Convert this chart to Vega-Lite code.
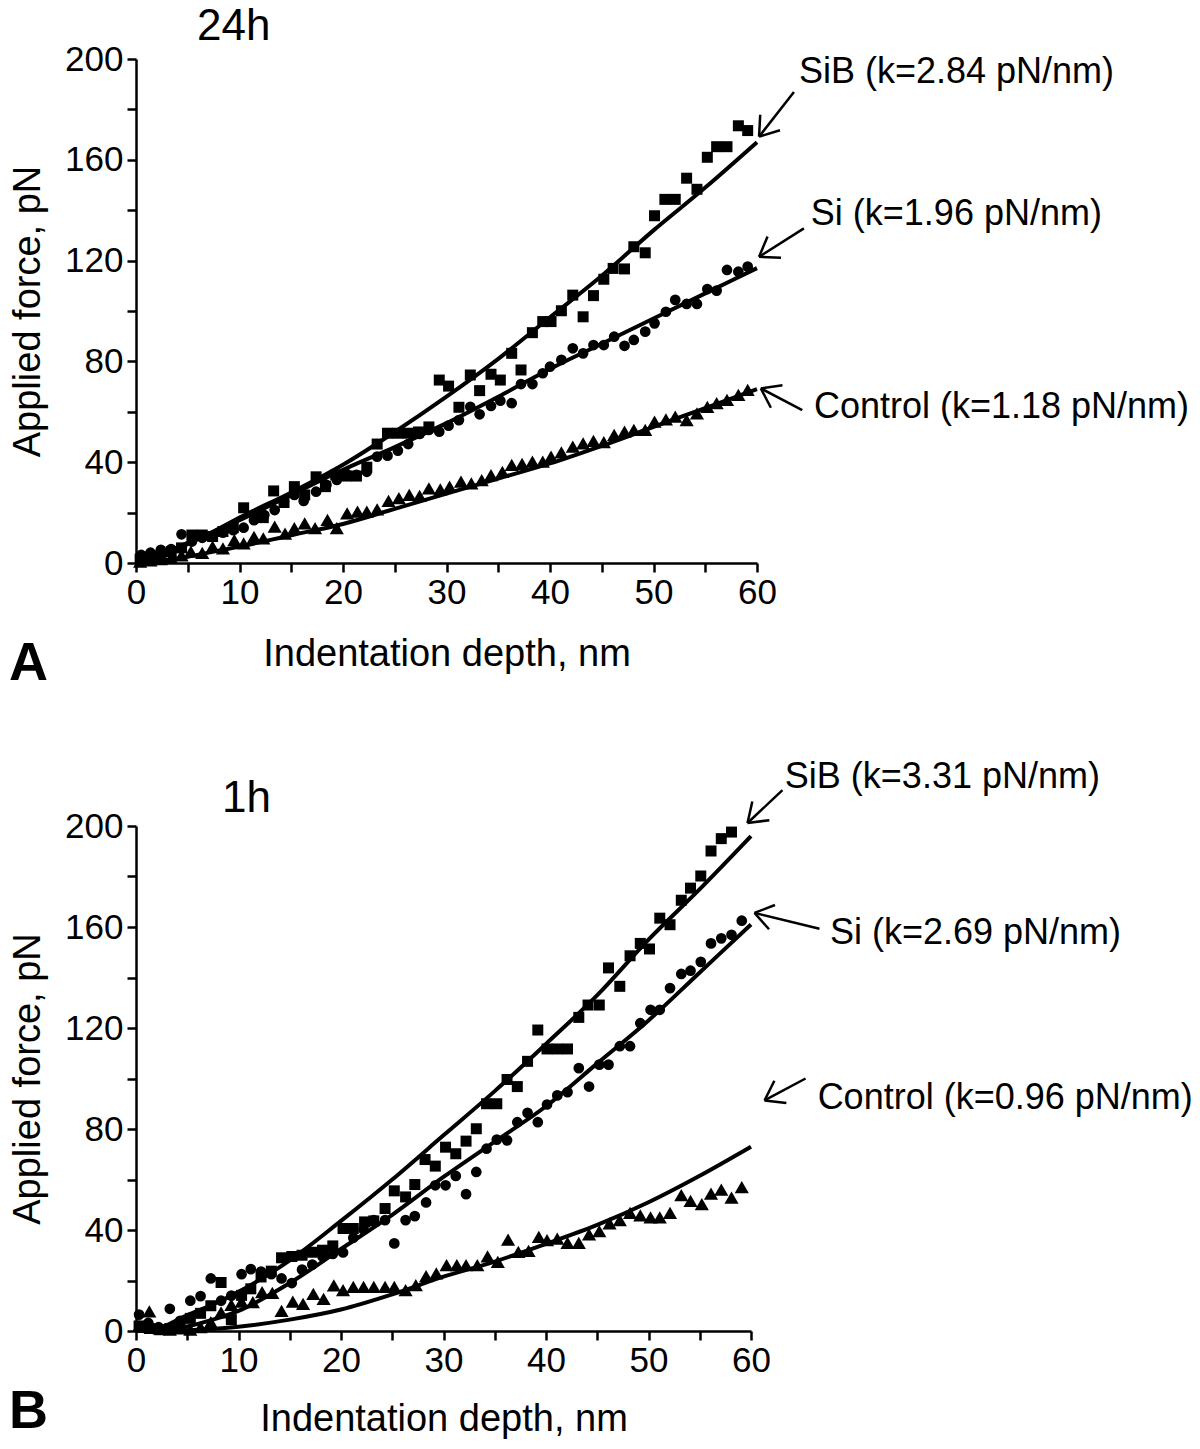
{
  "$schema": "https://vega.github.io/schema/vega-lite/v6.json",
  "background": "white",
  "padding": {"left": 9, "top": 5, "right": 3, "bottom": 5},
  "config": {"view": {"stroke": null}},
  "bounds": "flush",
  "spacing": 263,
  "datasets": {
    "a_pts": [
      {"series":"SiB","x":0.4,"y":1.5},{"series":"SiB","x":1.4,"y":2.5},{"series":"SiB","x":2.4,"y":3},{"series":"SiB","x":3.4,"y":4.5},{"series":"SiB","x":4.4,"y":6},{"series":"SiB","x":5.4,"y":11.1},{"series":"SiB","x":6.4,"y":11.1},{"series":"SiB","x":7.4,"y":10.5},{"series":"SiB","x":8.4,"y":12.5},{"series":"SiB","x":9.4,"y":14},{"series":"SiB","x":10.4,"y":21.9},{"series":"SiB","x":11.6,"y":18.4},{"series":"SiB","x":12.3,"y":18},{"series":"SiB","x":13.3,"y":28.6},{"series":"SiB","x":14.3,"y":24},{"series":"SiB","x":15.3,"y":30.3},{"series":"SiB","x":16.3,"y":27},{"series":"SiB","x":17.4,"y":34.2},{"series":"SiB","x":18.3,"y":30.3},{"series":"SiB","x":19.3,"y":34.9},{"series":"SiB","x":20.3,"y":34.5},{"series":"SiB","x":21.3,"y":34.5},{"series":"SiB","x":22.3,"y":38},{"series":"SiB","x":23.3,"y":47.2},{"series":"SiB","x":24.3,"y":51.5},{"series":"SiB","x":25.3,"y":51.5},{"series":"SiB","x":26.3,"y":51.5},{"series":"SiB","x":27.3,"y":52},{"series":"SiB","x":28.3,"y":54},{"series":"SiB","x":29.3,"y":72.6},{"series":"SiB","x":30.2,"y":70.2},{"series":"SiB","x":31.2,"y":61.8},{"series":"SiB","x":32.3,"y":74.6},{"series":"SiB","x":33.2,"y":68.4},{"series":"SiB","x":34.3,"y":74.9},{"series":"SiB","x":35.2,"y":72.6},{"series":"SiB","x":36.3,"y":83.2},{"series":"SiB","x":37.2,"y":76.6},{"series":"SiB","x":38.3,"y":91.4},{"series":"SiB","x":39.3,"y":95.8},{"series":"SiB","x":40.1,"y":95.8},{"series":"SiB","x":41.1,"y":100.1},{"series":"SiB","x":42.2,"y":106.3},{"series":"SiB","x":43.2,"y":97.7},{"series":"SiB","x":44.2,"y":106.1},{"series":"SiB","x":45.2,"y":112.6},{"series":"SiB","x":46.1,"y":116.9},{"series":"SiB","x":47.2,"y":116.7},{"series":"SiB","x":48.1,"y":125.5},{"series":"SiB","x":49.2,"y":123.1},{"series":"SiB","x":50.1,"y":137.8},{"series":"SiB","x":51.1,"y":144.3},{"series":"SiB","x":52.1,"y":144.3},{"series":"SiB","x":53.2,"y":152.7},{"series":"SiB","x":54.2,"y":148.3},{"series":"SiB","x":55.2,"y":161},{"series":"SiB","x":56.1,"y":165.2},{"series":"SiB","x":57.1,"y":165.2},{"series":"SiB","x":58.2,"y":173.5},{"series":"SiB","x":59.1,"y":171.6},
      {"series":"Si","x":0.5,"y":3.2},{"series":"Si","x":1.4,"y":4.1},{"series":"Si","x":2.4,"y":5.2},{"series":"Si","x":3.4,"y":5.5},{"series":"Si","x":4.4,"y":11.4},{"series":"Si","x":5.4,"y":8.5},{"series":"Si","x":6.4,"y":10},{"series":"Si","x":7.4,"y":10.5},{"series":"Si","x":8.4,"y":12},{"series":"Si","x":9.4,"y":13},{"series":"Si","x":10.4,"y":14},{"series":"Si","x":11.4,"y":17},{"series":"Si","x":12.4,"y":19},{"series":"Si","x":13.4,"y":21},{"series":"Si","x":14.3,"y":24.3},{"series":"Si","x":15.3,"y":27},{"series":"Si","x":16.2,"y":24.6},{"series":"Si","x":17.4,"y":28.3},{"series":"Si","x":18.4,"y":31},{"series":"Si","x":19.4,"y":33},{"series":"Si","x":20.3,"y":35.5},{"series":"Si","x":21.3,"y":35},{"series":"Si","x":22.3,"y":36.2},{"series":"Si","x":23.3,"y":42.2},{"series":"Si","x":24.3,"y":42.6},{"series":"Si","x":25.3,"y":44.6},{"series":"Si","x":26.3,"y":47.2},{"series":"Si","x":27.4,"y":51.2},{"series":"Si","x":28.3,"y":52.8},{"series":"Si","x":29.3,"y":52.1},{"series":"Si","x":30.2,"y":54.5},{"series":"Si","x":31.2,"y":56.7},{"series":"Si","x":32.3,"y":62},{"series":"Si","x":33.2,"y":59},{"series":"Si","x":34.3,"y":62.3},{"series":"Si","x":35.2,"y":64.4},{"series":"Si","x":36.3,"y":63.4},{"series":"Si","x":37.2,"y":71},{"series":"Si","x":38.3,"y":71},{"series":"Si","x":39.3,"y":75.3},{"series":"Si","x":40,"y":77.9},{"series":"Si","x":41.1,"y":80.6},{"series":"Si","x":42.2,"y":85.2},{"series":"Si","x":43.2,"y":83.2},{"series":"Si","x":44.2,"y":86.5},{"series":"Si","x":45.2,"y":86.5},{"series":"Si","x":46.2,"y":89.8},{"series":"Si","x":47.2,"y":86.2},{"series":"Si","x":48.1,"y":88.5},{"series":"Si","x":49.2,"y":91.8},{"series":"Si","x":50.1,"y":95.1},{"series":"Si","x":51.2,"y":99.7},{"series":"Si","x":52.1,"y":104.4},{"series":"Si","x":53.2,"y":102.8},{"series":"Si","x":54.2,"y":102.8},{"series":"Si","x":55.2,"y":108.7},{"series":"Si","x":56.1,"y":108.1},{"series":"Si","x":57.1,"y":116.3},{"series":"Si","x":58.2,"y":115.6},{"series":"Si","x":59.1,"y":117.6},
      {"series":"Control","x":0.4,"y":0.5},{"series":"Control","x":1.4,"y":1},{"series":"Control","x":2.4,"y":1.5},{"series":"Control","x":3.4,"y":2},{"series":"Control","x":4.4,"y":3},{"series":"Control","x":5.3,"y":4.5},{"series":"Control","x":6.4,"y":4},{"series":"Control","x":7.4,"y":6.5},{"series":"Control","x":8.4,"y":5.8},{"series":"Control","x":9.5,"y":9.1},{"series":"Control","x":10.4,"y":7.8},{"series":"Control","x":11.4,"y":10.4},{"series":"Control","x":12.3,"y":9.8},{"series":"Control","x":13.4,"y":14.4},{"series":"Control","x":14.4,"y":11.7},{"series":"Control","x":15.3,"y":13.8},{"series":"Control","x":16.3,"y":15.7},{"series":"Control","x":17.3,"y":13.8},{"series":"Control","x":18.5,"y":17.1},{"series":"Control","x":19.4,"y":13.8},{"series":"Control","x":20.4,"y":19.7},{"series":"Control","x":21.4,"y":20.4},{"series":"Control","x":22.3,"y":20.4},{"series":"Control","x":23.3,"y":21.3},{"series":"Control","x":24.4,"y":24.7},{"series":"Control","x":25.4,"y":25.7},{"series":"Control","x":26.4,"y":27},{"series":"Control","x":27.4,"y":26.6},{"series":"Control","x":28.3,"y":29.6},{"series":"Control","x":29.4,"y":29.2},{"series":"Control","x":30.3,"y":30.3},{"series":"Control","x":31.4,"y":32.3},{"series":"Control","x":32.4,"y":31.6},{"series":"Control","x":33.4,"y":32.9},{"series":"Control","x":34.3,"y":34.9},{"series":"Control","x":35.4,"y":36.2},{"series":"Control","x":36.3,"y":38.9},{"series":"Control","x":37.3,"y":39.3},{"series":"Control","x":38.3,"y":40.2},{"series":"Control","x":39.3,"y":40.2},{"series":"Control","x":40.1,"y":42.2},{"series":"Control","x":41.1,"y":43.9},{"series":"Control","x":42.2,"y":46.2},{"series":"Control","x":43.2,"y":47.5},{"series":"Control","x":44.2,"y":48.5},{"series":"Control","x":45.2,"y":48},{"series":"Control","x":46.2,"y":50.8},{"series":"Control","x":47.2,"y":52.1},{"series":"Control","x":48.1,"y":52.8},{"series":"Control","x":49.2,"y":52.8},{"series":"Control","x":50.1,"y":56.1},{"series":"Control","x":51.2,"y":57},{"series":"Control","x":52.1,"y":58.1},{"series":"Control","x":53.2,"y":56.7},{"series":"Control","x":54.2,"y":59.4},{"series":"Control","x":55.2,"y":62},{"series":"Control","x":56.1,"y":63.4},{"series":"Control","x":57.1,"y":64.7},{"series":"Control","x":58.2,"y":66.7},{"series":"Control","x":59.1,"y":68.7}
    ],
    "a_fit": [
      {"series":"SiB","x":0,"y":0},{"series":"SiB","x":2.5,"y":3},{"series":"SiB","x":5,"y":7.5},{"series":"SiB","x":7.5,"y":12.5},{"series":"SiB","x":10,"y":18},{"series":"SiB","x":15,"y":28},{"series":"SiB","x":20,"y":39},{"series":"SiB","x":25,"y":52},{"series":"SiB","x":30,"y":66},{"series":"SiB","x":35,"y":81},{"series":"SiB","x":40,"y":97.5},{"series":"SiB","x":45,"y":114},{"series":"SiB","x":50,"y":132},{"series":"SiB","x":55,"y":149},{"series":"SiB","x":60,"y":167},
      {"series":"Si","x":0,"y":0},{"series":"Si","x":2.5,"y":3.5},{"series":"Si","x":5,"y":8},{"series":"Si","x":7.5,"y":12.5},{"series":"Si","x":10,"y":17},{"series":"Si","x":15,"y":27},{"series":"Si","x":20,"y":37},{"series":"Si","x":25,"y":46},{"series":"Si","x":30,"y":55.5},{"series":"Si","x":35,"y":66},{"series":"Si","x":40,"y":77},{"series":"Si","x":45,"y":87},{"series":"Si","x":50,"y":97},{"series":"Si","x":55,"y":107},{"series":"Si","x":60,"y":117},
      {"series":"Control","x":0,"y":0},{"series":"Control","x":2.5,"y":1},{"series":"Control","x":5,"y":2.5},{"series":"Control","x":7.5,"y":4.5},{"series":"Control","x":10,"y":6.5},{"series":"Control","x":15,"y":11},{"series":"Control","x":20,"y":15.5},{"series":"Control","x":25,"y":21.5},{"series":"Control","x":30,"y":27.5},{"series":"Control","x":35,"y":33.5},{"series":"Control","x":40,"y":39.5},{"series":"Control","x":45,"y":46.5},{"series":"Control","x":50,"y":54},{"series":"Control","x":55,"y":61.5},{"series":"Control","x":60,"y":69}
    ],
    "a_arrows": [
      {"x":63.57,"y":186.9,"x2":60.2,"y2":169.2},{"x":62.22,"y":171.7,"x2":60.2,"y2":169.2},{"x":60.31,"y":177.9,"x2":60.2,"y2":169.2},
      {"x":64.53,"y":132.8,"x2":60.2,"y2":121.5},{"x":62.32,"y":121.1,"x2":60.2,"y2":121.5},{"x":61.02,"y":129.6,"x2":60.2,"y2":121.5},
      {"x":64.37,"y":60.7,"x2":60.37,"y2":69.3},{"x":61.34,"y":61.6,"x2":60.37,"y2":69.3},{"x":62.46,"y":70.5,"x2":60.37,"y2":69.3}
    ],
    "a_labels": [
      {"label":"SiB (k=2.84 pN/nm)","x":64.05,"y":190.5},
      {"label":"Si (k=1.96 pN/nm)","x":65.2,"y":134.1},
      {"label":"Control (k=1.18 pN/nm)","x":65.5,"y":57.5}
    ],
    "a_title": [{"label":"24h","x":5.9,"y":207.5}],
    "a_letter": [{"label":"A","x":-12.27,"y":-46.4}],
    "b_pts": [
      {"series":"SiB","x":0.3,"y":2},{"series":"SiB","x":1.3,"y":1},{"series":"SiB","x":2.3,"y":0.5},{"series":"SiB","x":3.3,"y":1},{"series":"SiB","x":4.3,"y":2},{"series":"SiB","x":5.3,"y":5},{"series":"SiB","x":6.3,"y":7},{"series":"SiB","x":7.3,"y":10},{"series":"SiB","x":8.3,"y":19.2},{"series":"SiB","x":9.3,"y":4.5},{"series":"SiB","x":10.3,"y":14.1},{"series":"SiB","x":11.2,"y":16.7},{"series":"SiB","x":12.2,"y":21.4},{"series":"SiB","x":13.2,"y":23.7},{"series":"SiB","x":14.2,"y":29},{"series":"SiB","x":15.2,"y":29.5},{"series":"SiB","x":16.2,"y":30},{"series":"SiB","x":17.2,"y":31.2},{"series":"SiB","x":18.2,"y":32},{"series":"SiB","x":19.2,"y":33.7},{"series":"SiB","x":20.2,"y":40.6},{"series":"SiB","x":21.2,"y":40.6},{"series":"SiB","x":22.3,"y":43.2},{"series":"SiB","x":23.2,"y":43.6},{"series":"SiB","x":24.3,"y":48.5},{"series":"SiB","x":25.2,"y":55.5},{"series":"SiB","x":26.3,"y":53.1},{"series":"SiB","x":27.2,"y":58},{"series":"SiB","x":28.2,"y":67.9},{"series":"SiB","x":29.2,"y":65.3},{"series":"SiB","x":30.2,"y":72.8},{"series":"SiB","x":31.2,"y":70.2},{"series":"SiB","x":32.2,"y":75.2},{"series":"SiB","x":33.2,"y":80.1},{"series":"SiB","x":34.2,"y":90},{"series":"SiB","x":35.2,"y":90},{"series":"SiB","x":36.2,"y":99.6},{"series":"SiB","x":37.2,"y":96.8},{"series":"SiB","x":38.2,"y":106.8},{"series":"SiB","x":39.2,"y":119.2},{"series":"SiB","x":40.1,"y":111.7},{"series":"SiB","x":41.1,"y":111.7},{"series":"SiB","x":42.1,"y":111.7},{"series":"SiB","x":43.2,"y":124.2},{"series":"SiB","x":44.1,"y":129.1},{"series":"SiB","x":45.2,"y":129.1},{"series":"SiB","x":46.1,"y":143.8},{"series":"SiB","x":47.2,"y":136.5},{"series":"SiB","x":48.2,"y":148.6},{"series":"SiB","x":49.2,"y":153.5},{"series":"SiB","x":50.1,"y":151.3},{"series":"SiB","x":51.1,"y":163.5},{"series":"SiB","x":52.1,"y":160.9},{"series":"SiB","x":53.2,"y":170.6},{"series":"SiB","x":54.1,"y":175.4},{"series":"SiB","x":55.1,"y":180.2},{"series":"SiB","x":56.1,"y":190.1},{"series":"SiB","x":57.1,"y":195},{"series":"SiB","x":58.1,"y":197.6},
      {"series":"Si","x":0.3,"y":6.5},{"series":"Si","x":1.2,"y":3.2},{"series":"Si","x":2.2,"y":1.5},{"series":"Si","x":3.3,"y":8.8},{"series":"Si","x":4.3,"y":4},{"series":"Si","x":5.3,"y":12},{"series":"Si","x":6.3,"y":13.8},{"series":"Si","x":7.3,"y":20.8},{"series":"Si","x":8.3,"y":12},{"series":"Si","x":9.3,"y":14},{"series":"Si","x":10.3,"y":22.5},{"series":"Si","x":11.2,"y":24.5},{"series":"Si","x":12.2,"y":23.5},{"series":"Si","x":13.2,"y":22.5},{"series":"Si","x":14.2,"y":20.8},{"series":"Si","x":15.2,"y":19},{"series":"Si","x":16.2,"y":24.3},{"series":"Si","x":17.2,"y":26.3},{"series":"Si","x":18.2,"y":29.5},{"series":"Si","x":19.2,"y":30.5},{"series":"Si","x":20.2,"y":31.1},{"series":"Si","x":21.2,"y":36.9},{"series":"Si","x":22.2,"y":40.2},{"series":"Si","x":23.2,"y":43.9},{"series":"Si","x":24.3,"y":43.9},{"series":"Si","x":25.2,"y":34.7},{"series":"Si","x":26.3,"y":43.9},{"series":"Si","x":27.2,"y":45.5},{"series":"Si","x":28.3,"y":50.9},{"series":"Si","x":29.2,"y":57.7},{"series":"Si","x":30.2,"y":57.7},{"series":"Si","x":31.2,"y":61.4},{"series":"Si","x":32.2,"y":54.2},{"series":"Si","x":33.2,"y":63},{"series":"Si","x":34.2,"y":72.2},{"series":"Si","x":35.2,"y":75.8},{"series":"Si","x":36.2,"y":75.5},{"series":"Si","x":37.2,"y":82.7},{"series":"Si","x":38.2,"y":86.4},{"series":"Si","x":39.2,"y":82.7},{"series":"Si","x":40.1,"y":89.7},{"series":"Si","x":41.1,"y":93.3},{"series":"Si","x":42.1,"y":94.6},{"series":"Si","x":43.2,"y":104.1},{"series":"Si","x":44.2,"y":96.8},{"series":"Si","x":45.2,"y":105.5},{"series":"Si","x":46.1,"y":105.5},{"series":"Si","x":47.2,"y":112.8},{"series":"Si","x":48.2,"y":112.8},{"series":"Si","x":49.2,"y":121.9},{"series":"Si","x":50.2,"y":127.2},{"series":"Si","x":51.1,"y":127.2},{"series":"Si","x":52.1,"y":135.8},{"series":"Si","x":53.2,"y":141.4},{"series":"Si","x":54.1,"y":142.7},{"series":"Si","x":55.1,"y":146.2},{"series":"Si","x":56.1,"y":153.5},{"series":"Si","x":57.1,"y":155.5},{"series":"Si","x":58.1,"y":156.9},{"series":"Si","x":59.1,"y":162.5},
      {"series":"Control","x":0.3,"y":2},{"series":"Control","x":1.3,"y":7.8},{"series":"Control","x":2.3,"y":1},{"series":"Control","x":3.3,"y":0.5},{"series":"Control","x":4.3,"y":1},{"series":"Control","x":5.3,"y":0.5},{"series":"Control","x":6.3,"y":1.5},{"series":"Control","x":7.3,"y":3.5},{"series":"Control","x":8.3,"y":7.4},{"series":"Control","x":9.3,"y":10.3},{"series":"Control","x":10.3,"y":11.6},{"series":"Control","x":11.4,"y":11.4},{"series":"Control","x":12.3,"y":15.4},{"series":"Control","x":13.3,"y":15.1},{"series":"Control","x":14.2,"y":8},{"series":"Control","x":15.3,"y":11.6},{"series":"Control","x":16.3,"y":10.7},{"series":"Control","x":17.3,"y":14.7},{"series":"Control","x":18.3,"y":12.7},{"series":"Control","x":19.3,"y":18.1},{"series":"Control","x":20.2,"y":16.2},{"series":"Control","x":21.2,"y":17.5},{"series":"Control","x":22.2,"y":17.5},{"series":"Control","x":23.2,"y":17.5},{"series":"Control","x":24.3,"y":17.5},{"series":"Control","x":25.2,"y":17.5},{"series":"Control","x":26.3,"y":16.2},{"series":"Control","x":27.3,"y":18.2},{"series":"Control","x":28.3,"y":21.7},{"series":"Control","x":29.3,"y":22.8},{"series":"Control","x":30.3,"y":26.1},{"series":"Control","x":31.3,"y":26.1},{"series":"Control","x":32.2,"y":26.1},{"series":"Control","x":33.3,"y":26.1},{"series":"Control","x":34.3,"y":29.6},{"series":"Control","x":35.3,"y":27.4},{"series":"Control","x":36.3,"y":36.2},{"series":"Control","x":37.3,"y":31.3},{"series":"Control","x":38.3,"y":31.7},{"series":"Control","x":39.3,"y":37.3},{"series":"Control","x":40.1,"y":36},{"series":"Control","x":41.1,"y":36.6},{"series":"Control","x":42.1,"y":34.9},{"series":"Control","x":43.2,"y":34.9},{"series":"Control","x":44.2,"y":38.3},{"series":"Control","x":45.2,"y":39.6},{"series":"Control","x":46.2,"y":42.6},{"series":"Control","x":47.2,"y":43.9},{"series":"Control","x":48.2,"y":46.8},{"series":"Control","x":49.2,"y":45.8},{"series":"Control","x":50.2,"y":45},{"series":"Control","x":51.1,"y":45},{"series":"Control","x":52.1,"y":46.8},{"series":"Control","x":53.2,"y":53.8},{"series":"Control","x":54.1,"y":51.5},{"series":"Control","x":55.2,"y":50.2},{"series":"Control","x":56.1,"y":54.4},{"series":"Control","x":57.1,"y":56},{"series":"Control","x":58.1,"y":52.8},{"series":"Control","x":59.1,"y":57}
    ],
    "b_fit": [
      {"series":"SiB","x":1,"y":0},{"series":"SiB","x":2.5,"y":1.5},{"series":"SiB","x":5,"y":6.3},{"series":"SiB","x":7.5,"y":10.5},{"series":"SiB","x":10,"y":15.5},{"series":"SiB","x":15,"y":28},{"series":"SiB","x":20,"y":43.6},{"series":"SiB","x":25,"y":60},{"series":"SiB","x":30,"y":77.5},{"series":"SiB","x":35,"y":95},{"series":"SiB","x":40,"y":113.7},{"series":"SiB","x":45,"y":133},{"series":"SiB","x":50,"y":155},{"series":"SiB","x":55,"y":175},{"series":"SiB","x":60,"y":196},
      {"series":"Si","x":2,"y":0},{"series":"Si","x":3,"y":0.3},{"series":"Si","x":5,"y":1.8},{"series":"Si","x":7.5,"y":4.5},{"series":"Si","x":10,"y":8},{"series":"Si","x":15,"y":19},{"series":"Si","x":20,"y":32.5},{"series":"Si","x":25,"y":46},{"series":"Si","x":30,"y":61},{"series":"Si","x":35,"y":75},{"series":"Si","x":40,"y":89},{"series":"Si","x":45,"y":106},{"series":"Si","x":50,"y":123},{"series":"Si","x":55,"y":142},{"series":"Si","x":60,"y":161},
      {"series":"Control","x":0,"y":0},{"series":"Control","x":5,"y":0.3},{"series":"Control","x":10,"y":1.7},{"series":"Control","x":15,"y":4.5},{"series":"Control","x":20,"y":8.5},{"series":"Control","x":25,"y":14.5},{"series":"Control","x":30,"y":21.5},{"series":"Control","x":35,"y":27.5},{"series":"Control","x":40,"y":34.5},{"series":"Control","x":45,"y":42},{"series":"Control","x":50,"y":51},{"series":"Control","x":55,"y":61.5},{"series":"Control","x":60,"y":73}
    ],
    "b_arrows": [
      {"x":63.07,"y":214.2,"x2":59.66,"y2":201.2},{"x":61.79,"y":202.3,"x2":59.66,"y2":201.2},{"x":60.13,"y":209.7,"x2":59.66,"y2":201.2},
      {"x":66.68,"y":159.3,"x2":60.34,"y2":165.6},{"x":61.76,"y":159.1,"x2":60.34,"y2":165.6},{"x":62.34,"y":168.7,"x2":60.34,"y2":165.6},
      {"x":65.32,"y":100,"x2":61.32,"y2":91.3},{"x":63.45,"y":90.3,"x2":61.32,"y2":91.3},{"x":62.28,"y":99.1,"x2":61.32,"y2":91.3}
    ],
    "b_labels": [
      {"label":"SiB (k=3.31 pN/nm)","x":63.3,"y":215},
      {"label":"Si (k=2.69 pN/nm)","x":67.7,"y":153.4},
      {"label":"Control (k=0.96 pN/nm)","x":66.5,"y":88.1}
    ],
    "b_title": [{"label":"1h","x":8.4,"y":205.5}],
    "b_letter": [{"label":"B","x":-12.39,"y":-38.3}]
  },
  "vconcat": [
    {
      "width": 621,
      "height": 504,
      "encoding": {
        "x": {"field":"x","type":"quantitative","scale":{"domain":[0,60],"nice":false,"zero":false},
          "axis":{"title":"Indentation depth, nm","values":[0,5,10,15,20,25,30,35,40,45,50,55,60],"labelExpr":"datum.value % 10 === 0 ? datum.label : ''","grid":false,"domainColor":"black","domainWidth":2.5,"tickColor":"black","tickWidth":2.5,"tickSize":9,"labelFont":"Liberation Sans","labelFontSize":35,"labelColor":"black","labelPadding":3,"labelOverlap":false,"labelFlush":false,"titleFont":"Liberation Sans","titleFontSize":38,"titleFontWeight":"normal","titleColor":"black","titlePadding":25}},
        "y": {"field":"y","type":"quantitative","scale":{"domain":[0,200],"nice":false,"zero":false},
          "axis":{"title":"Applied force, pN","values":[0,20,40,60,80,100,120,140,160,180,200],"labelExpr":"datum.value % 40 === 0 ? datum.label : ''","grid":false,"domainColor":"black","domainWidth":2.5,"tickColor":"black","tickWidth":2.5,"tickSize":9,"labelFont":"Liberation Sans","labelFontSize":35,"labelColor":"black","labelPadding":4,"labelOverlap":false,"labelFlush":false,"titleFont":"Liberation Sans","titleFontSize":38,"titleFontWeight":"normal","titleColor":"black","titlePadding":17}}
      },
      "layer": [
        {"data":{"name":"a_fit"},"mark":{"type":"line","color":"black","strokeWidth":4,"interpolate":"monotone"},"encoding":{"detail":{"field":"series"}}},
        {"data":{"name":"a_pts"},"transform":[{"filter":"datum.series === 'SiB'"}],"mark":{"type":"point","shape":"square","size":121,"filled":true,"color":"black","opacity":1}},
        {"data":{"name":"a_pts"},"transform":[{"filter":"datum.series === 'Si'"}],"mark":{"type":"point","shape":"circle","size":115,"filled":true,"color":"black","opacity":1}},
        {"data":{"name":"a_pts"},"transform":[{"filter":"datum.series === 'Control'"}],"mark":{"type":"point","shape":"triangle-up","size":200,"filled":true,"color":"black","opacity":1}},
        {"data":{"name":"a_arrows"},"mark":{"type":"rule","color":"black","strokeWidth":2.5},"encoding":{"x2":{"field":"x2"},"y2":{"field":"y2"}}},
        {"data":{"name":"a_labels"},"mark":{"type":"text","align":"left","baseline":"alphabetic","font":"Liberation Sans","fontSize":36,"color":"black"},"encoding":{"text":{"field":"label"}}},
        {"data":{"name":"a_title"},"mark":{"type":"text","align":"left","baseline":"alphabetic","font":"Liberation Sans","fontSize":44,"color":"black"},"encoding":{"text":{"field":"label"}}},
        {"data":{"name":"a_letter"},"mark":{"type":"text","align":"left","baseline":"alphabetic","font":"Liberation Sans","fontWeight":"bold","fontSize":54,"color":"black"},"encoding":{"text":{"field":"label"}}}
      ]
    },
    {
      "width": 615,
      "height": 505,
      "encoding": {
        "x": {"field":"x","type":"quantitative","scale":{"domain":[0,60],"nice":false,"zero":false},
          "axis":{"title":"Indentation depth, nm","values":[0,5,10,15,20,25,30,35,40,45,50,55,60],"labelExpr":"datum.value % 10 === 0 ? datum.label : ''","grid":false,"domainColor":"black","domainWidth":2.5,"tickColor":"black","tickWidth":2.5,"tickSize":9,"labelFont":"Liberation Sans","labelFontSize":35,"labelColor":"black","labelPadding":3,"labelOverlap":false,"labelFlush":false,"titleFont":"Liberation Sans","titleFontSize":38,"titleFontWeight":"normal","titleColor":"black","titlePadding":22}},
        "y": {"field":"y","type":"quantitative","scale":{"domain":[0,200],"nice":false,"zero":false},
          "axis":{"title":"Applied force, pN","values":[0,20,40,60,80,100,120,140,160,180,200],"labelExpr":"datum.value % 40 === 0 ? datum.label : ''","grid":false,"domainColor":"black","domainWidth":2.5,"tickColor":"black","tickWidth":2.5,"tickSize":9,"labelFont":"Liberation Sans","labelFontSize":35,"labelColor":"black","labelPadding":4,"labelOverlap":false,"labelFlush":false,"titleFont":"Liberation Sans","titleFontSize":38,"titleFontWeight":"normal","titleColor":"black","titlePadding":17}}
      },
      "layer": [
        {"data":{"name":"b_fit"},"mark":{"type":"line","color":"black","strokeWidth":4,"interpolate":"monotone"},"encoding":{"detail":{"field":"series"}}},
        {"data":{"name":"b_pts"},"transform":[{"filter":"datum.series === 'SiB'"}],"mark":{"type":"point","shape":"square","size":121,"filled":true,"color":"black","opacity":1}},
        {"data":{"name":"b_pts"},"transform":[{"filter":"datum.series === 'Si'"}],"mark":{"type":"point","shape":"circle","size":115,"filled":true,"color":"black","opacity":1}},
        {"data":{"name":"b_pts"},"transform":[{"filter":"datum.series === 'Control'"}],"mark":{"type":"point","shape":"triangle-up","size":200,"filled":true,"color":"black","opacity":1}},
        {"data":{"name":"b_arrows"},"mark":{"type":"rule","color":"black","strokeWidth":2.5},"encoding":{"x2":{"field":"x2"},"y2":{"field":"y2"}}},
        {"data":{"name":"b_labels"},"mark":{"type":"text","align":"left","baseline":"alphabetic","font":"Liberation Sans","fontSize":36,"color":"black"},"encoding":{"text":{"field":"label"}}},
        {"data":{"name":"b_title"},"mark":{"type":"text","align":"left","baseline":"alphabetic","font":"Liberation Sans","fontSize":44,"color":"black"},"encoding":{"text":{"field":"label"}}},
        {"data":{"name":"b_letter"},"mark":{"type":"text","align":"left","baseline":"alphabetic","font":"Liberation Sans","fontWeight":"bold","fontSize":54,"color":"black"},"encoding":{"text":{"field":"label"}}}
      ]
    }
  ]
}
